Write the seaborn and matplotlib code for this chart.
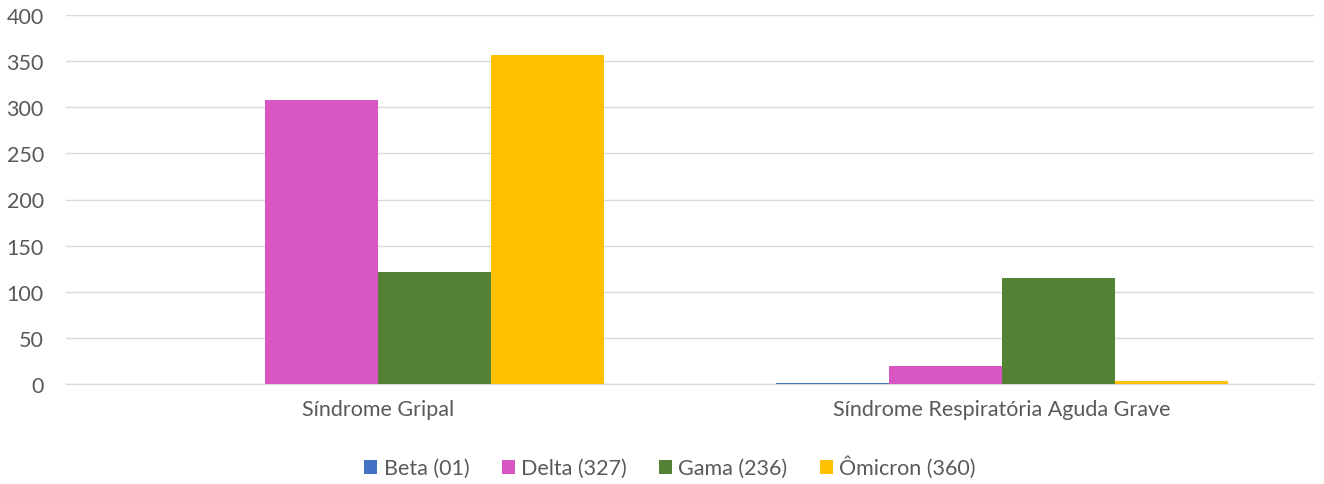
import matplotlib
matplotlib.use("Agg")
import matplotlib.pyplot as plt
import seaborn as sns
import pandas as pd

categories = ["Síndrome Gripal", "Síndrome Respiratória Aguda Grave"]
series = ["Beta (01)", "Delta (327)", "Gama (236)", "Ômicron (360)"]
beta = [0, 1]
delta = [308, 19]
gama = [121, 115]
omicron = [357, 3]
colors = ["#4472C4", "#D957C2", "#548235", "#FFC000"]
yticks = [0, 50, 100, 150, 200, 250, 300, 350, 400]

rows = []
for name, vals in zip(series, [beta, delta, gama, omicron]):
    for c, v in zip(categories, vals):
        rows.append({"cat": c, "series": name, "value": v})
df = pd.DataFrame(rows)

sns.set_theme(style="white")
plt.rcParams["font.family"] = ["Lato", "DejaVu Sans"]
text_color = "#595959"
fs = 15.5

fig = plt.figure(figsize=(13.24, 4.85), dpi=100)
ax = fig.add_axes([66/1324, 1-385/485, 1248/1324, 369/485])
sns.barplot(data=df, x="cat", y="value", hue="series", palette=colors,
            width=0.725, saturation=1, ax=ax, legend=True, zorder=3, linewidth=0)
ax.set_ylim(0, 400)
ax.set_yticks(yticks)
ax.set_xlim(-0.5, 1.5)
ax.grid(axis="y", color="#D9D9D9", linewidth=1, zorder=0)
ax.set_axisbelow(True)
for s in ["top", "right", "left"]:
    ax.spines[s].set_visible(False)
ax.spines["bottom"].set_color("#D9D9D9")
ax.spines["bottom"].set_linewidth(1)
ax.tick_params(axis="both", length=0, colors=text_color, labelsize=fs)
ax.tick_params(axis="x", pad=11)
ax.tick_params(axis="y", pad=16)
ax.set_xlabel("")
ax.set_ylabel("")
for t in ax.get_xticklabels() + ax.get_yticklabels():
    t.set_color(text_color)
handles, labels = ax.get_legend_handles_labels()
ax.legend_.remove()
fig.legend(handles, labels, loc="center", bbox_to_anchor=(670/1324, 1-468/485),
           ncol=4, frameon=False, fontsize=fs, labelcolor=text_color,
           handlelength=0.6, handleheight=0.6, handletextpad=0.3, columnspacing=1.5)
fig.savefig("out.png", dpi=100)
